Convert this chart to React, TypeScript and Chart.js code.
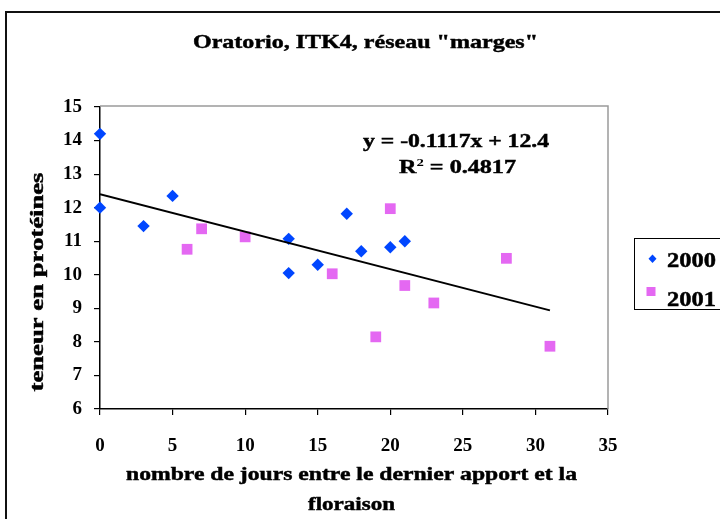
import React, { useEffect, useRef } from "react";
import { Chart, registerables } from "chart.js";

Chart.register(...registerables);

// ---- data ----
const SERIES_NAMES = ["2000", "2001"];
const X_2000 = [0, 0, 3, 5, 13, 13, 15, 17, 18, 20, 21];
const Y_2000 = [14.2, 12.0, 11.45, 12.35, 11.07, 10.05, 10.3, 11.82, 10.7, 10.82, 11.0];
const X_2001 = [6, 7, 10, 16, 19, 20, 21, 23, 28, 31];
const Y_2001 = [10.76, 11.37, 11.13, 10.03, 8.15, 11.97, 9.68, 9.16, 10.49, 7.87];
const TREND_X = [0, 31];
const TREND_Y = [12.4, 8.94];
const X_MIN = 0;
const X_MAX = 35;
const X_STEP = 5;
const Y_MIN = 6;
const Y_MAX = 15;
const Y_STEP = 1;

const TITLE = 'Oratorio, ITK4, réseau "marges"';
const X_TITLE_1 = "nombre de jours entre le dernier apport et la";
const X_TITLE_2 = "floraison";
const Y_TITLE = "teneur en protéines";
const EQUATION = "y = -0.1117x + 12.4";
const R2_VALUE = "0.4817";

const BLUE = "#0046FF";
const PINK = "#E468F2";
const SERIF = "'Liberation Serif'";

function fitText(
  ctx: CanvasRenderingContext2D,
  text: string,
  cx: number,
  by: number,
  w: number,
  size: number
) {
  ctx.save();
  ctx.font = `bold ${size}px ${SERIF}`;
  const m = ctx.measureText(text).width;
  ctx.translate(cx, by);
  ctx.scale(w / m, 1);
  ctx.textAlign = "center";
  ctx.textBaseline = "alphabetic";
  ctx.fillStyle = "#000";
  ctx.strokeStyle = "#000";
  ctx.lineWidth = 0.45;
  ctx.fillText(text, 0, 0);
  ctx.strokeText(text, 0, 0);
  ctx.restore();
}

const decorPlugin = {
  id: "decor",
  beforeDatasetsDraw(chart: any) {
    const { ctx, chartArea } = chart;
    ctx.save();
    ctx.strokeStyle = "#9a9a9a";
    ctx.lineWidth = 1.5;
    ctx.beginPath();
    ctx.moveTo(chartArea.left, chartArea.top - 1);
    ctx.lineTo(chartArea.right, chartArea.top - 1);
    ctx.lineTo(chartArea.right, chartArea.bottom);
    ctx.stroke();
    ctx.restore();
  },
  afterDraw(chart: any) {
    const { ctx } = chart;
    ctx.save();
    ctx.strokeStyle = "#111";
    ctx.lineWidth = 2;
    ctx.strokeRect(6, 12, 900, 900);

    fitText(ctx, TITLE, 365.5, 48, 345, 19.5);

    fitText(ctx, EQUATION, 456, 147, 186, 18);
    {
      const big = `bold 18px ${SERIF}`;
      const small = `bold 11px ${SERIF}`;
      ctx.font = big;
      const wR = ctx.measureText("R").width;
      const wRest = ctx.measureText(" = " + R2_VALUE).width;
      ctx.font = small;
      const w2 = ctx.measureText("2").width;
      const total = wR + w2 + wRest;
      const sx = 117 / total;
      ctx.save();
      ctx.translate(399, 173);
      ctx.scale(sx, 1);
      ctx.fillStyle = "#000";
      ctx.strokeStyle = "#000";
      ctx.lineWidth = 0.45;
      ctx.textAlign = "left";
      ctx.textBaseline = "alphabetic";
      ctx.font = big;
      ctx.fillText("R", 0, 0);
      ctx.strokeText("R", 0, 0);
      ctx.font = small;
      ctx.fillText("2", wR, -7);
      ctx.font = big;
      ctx.fillText(" = " + R2_VALUE, wR + w2, 0);
      ctx.strokeText(" = " + R2_VALUE, wR + w2, 0);
      ctx.restore();
    }

    fitText(ctx, X_TITLE_1, 351.5, 480, 451, 18);
    fitText(ctx, X_TITLE_2, 351.5, 510, 87, 18);

    ctx.save();
    ctx.translate(43, 282);
    ctx.rotate(-Math.PI / 2);
    ctx.font = `bold 18px ${SERIF}`;
    const m = ctx.measureText(Y_TITLE).width;
    ctx.scale(219 / m, 1);
    ctx.textAlign = "center";
    ctx.textBaseline = "alphabetic";
    ctx.fillStyle = "#000";
    ctx.strokeStyle = "#000";
    ctx.lineWidth = 0.45;
    ctx.fillText(Y_TITLE, 0, 0);
    ctx.strokeText(Y_TITLE, 0, 0);
    ctx.restore();

    ctx.save();
    ctx.strokeStyle = "#000";
    ctx.lineWidth = 1;
    ctx.fillStyle = "#fff";
    ctx.fillRect(634.5, 238.5, 100, 71);
    ctx.strokeRect(634.5, 238.5, 100, 71);
    const ds = chart.data.datasets;
    ctx.fillStyle = ds[0].backgroundColor;
    ctx.beginPath();
    ctx.moveTo(652.5, 254.5);
    ctx.lineTo(656.5, 258.7);
    ctx.lineTo(652.5, 263);
    ctx.lineTo(648.5, 258.7);
    ctx.closePath();
    ctx.fill();
    ctx.fillStyle = ds[1].backgroundColor;
    ctx.fillRect(646.5, 287, 9, 9);
    ctx.restore();
    fitText(ctx, ds[0].label, 691.5, 267, 49, 20);
    fitText(ctx, ds[1].label, 691.5, 306, 49, 20);

    ctx.restore();
  },
};

export default function App() {
  const ref = useRef<HTMLCanvasElement | null>(null);

  useEffect(() => {
    if (!ref.current) return;
    const tickFont = { family: "'Liberation Serif'", size: 19, weight: "bold" as const };
    const chart = new Chart(ref.current, {
      type: "scatter",
      data: {
        datasets: [
          {
            label: SERIES_NAMES[0],
            data: X_2000.map((x, i) => ({ x, y: Y_2000[i] })),
            backgroundColor: BLUE,
            borderColor: BLUE,
            borderWidth: 0,
            pointStyle: "rectRot",
            pointRadius: 6.2,
            order: 2,
            clip: false,
          },
          {
            label: SERIES_NAMES[1],
            data: X_2001.map((x, i) => ({ x, y: Y_2001[i] })),
            backgroundColor: PINK,
            borderColor: PINK,
            borderWidth: 0,
            pointStyle: "rect",
            pointRadius: 7.6,
            order: 1,
            clip: false,
          },
          {
            type: "line",
            label: "trend",
            data: TREND_X.map((x, i) => ({ x, y: TREND_Y[i] })),
            borderColor: "#000",
            borderWidth: 2,
            pointRadius: 0,
            showLine: true,
            fill: false,
            order: 0,
          } as any,
        ],
      },
      options: {
        animation: false,
        responsive: false,
        events: [],
        layout: { padding: { left: 0, top: 107, right: 112, bottom: 0 } },
        plugins: {
          legend: { display: false },
          title: { display: false },
          tooltip: { enabled: false },
        },
        scales: {
          x: {
            type: "linear",
            min: X_MIN,
            max: X_MAX,
            afterFit: (s: any) => {
              s.height = 110;
            },
            ticks: {
              stepSize: X_STEP,
              color: "#000",
              font: tickFont,
              padding: 20,
            },
            grid: {
              display: true,
              drawOnChartArea: false,
              drawTicks: true,
              tickLength: 6,
              color: "#000",
              lineWidth: 1.2,
            },
            border: { display: true, color: "#000", width: 1.5 },
          },
          y: {
            type: "linear",
            min: Y_MIN,
            max: Y_MAX,
            afterFit: (s: any) => {
              s.width = 100;
            },
            ticks: {
              stepSize: Y_STEP,
              color: "#000",
              font: tickFont,
              padding: 12,
            },
            grid: {
              display: true,
              drawOnChartArea: false,
              drawTicks: true,
              tickLength: 6,
              color: "#000",
              lineWidth: 1.2,
            },
            border: { display: true, color: "#000", width: 1.5 },
          },
        },
      },
      plugins: [decorPlugin],
    });
    return () => chart.destroy();
  }, []);

  return (
    <div style={{ position: "absolute", left: 0, top: 0, width: 720, height: 519, background: "#fff" }}>
      <canvas ref={ref} width={720} height={519} style={{ display: "block" }} />
    </div>
  );
}
